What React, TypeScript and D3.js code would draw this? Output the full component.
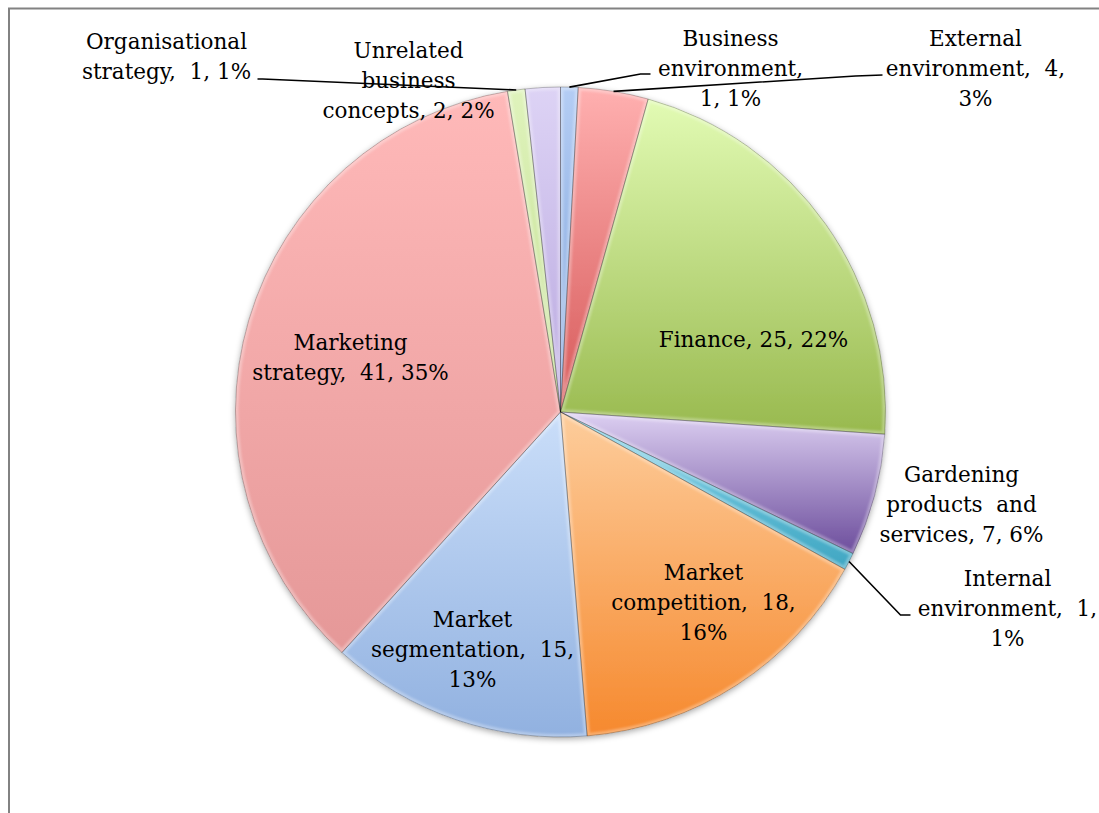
import React from 'react';
import * as d3 from 'd3';

// chart data, clockwise from 12 o'clock
const categories = [
  'Business environment', 'External environment', 'Finance',
  'Gardening products and services', 'Internal environment', 'Market competition',
  'Market segmentation', 'Marketing strategy', 'Organisational strategy',
  'Unrelated business concepts',
];
const values = [1, 4, 25, 7, 1, 18, 15, 41, 1, 2];
const percents = ['1%', '3%', '22%', '6%', '1%', '16%', '13%', '35%', '1%', '2%'];

// label text as wrapped in the original
const labelLines = [
  ['Business', 'environment,', '1, 1%'],
  ['External', 'environment,  4,', '3%'],
  ['Finance, 25, 22%'],
  ['Gardening', 'products  and', 'services, 7, 6%'],
  ['Internal', 'environment,  1,', '1%'],
  ['Market', 'competition,  18,', '16%'],
  ['Market', 'segmentation,  15,', '13%'],
  ['Marketing', 'strategy,  41, 35%'],
  ['Organisational', 'strategy,  1, 1%'],
  ['Unrelated', 'business', 'concepts, 2, 2%'],
];

const topColors = ['#b4cdf4', '#ffb0b0', '#e2fbb4', '#ddd0f2', '#86d4ea', '#fdcd9c', '#cadef9', '#ffb9b9', '#dff3bc', '#ddd3f5'];
const bottomColors = ['#7ea2da', '#d65858', '#98b94e', '#6c4d9c', '#3fa6c2', '#f6892e', '#91b1e0', '#e59898', '#c2de90', '#b9a8df'];

const W = 1099;
const H = 813;
const cx = 560.5;
const cy = 412;
const R = 325;
const fontSize = 21.5;
const lineH = 30;

// label anchors (centre x, first baseline y, relative to pie centre) and leader ends
const labelLayout: { dx: number; dy: number; leader?: [number, number][] }[] = [
  { dx: 170, dy: -366, leader: [[80, -338], [90, -338]] },
  { dx: 415, dy: -366, leader: [[295, -336], [322, -337]] },
  { dx: 193, dy: -65 },
  { dx: 401, dy: 70 },
  { dx: 447, dy: 174, leader: [[340, 203], [350, 203]] },
  { dx: 143, dy: 168 },
  { dx: -88, dy: 215 },
  { dx: -210, dy: -62 },
  { dx: -394, dy: -363, leader: [[-298, -333], [-303, -333]] },
  { dx: -152, dy: -354 },
];

export default function App() {
  const pie = d3.pie<number>().sort(null).value(d => d);
  const arcs = pie(values);
  const arc = d3.arc<d3.PieArcDatum<number>>().innerRadius(0).outerRadius(R);
  const rim = d3.arc<d3.PieArcDatum<number>>().innerRadius(R).outerRadius(R);
  const line = d3.line();

  return (
    <svg width={W} height={H} style={{ position: 'absolute', left: 0, top: 0 }}
      fontFamily="'DejaVu Serif', serif" fontSize={fontSize}>
      <defs>
        {arcs.map((a, i) => (
          <linearGradient key={i} id={`g${i}`} x1="0" y1="0" x2="0" y2="1">
            <stop offset="0" stopColor={topColors[i]} />
            <stop offset="1" stopColor={bottomColors[i]} />
          </linearGradient>
        ))}
        {arcs.map((a, i) => (
          <clipPath key={i} id={`c${i}`}><path d={arc(a) || ''} /></clipPath>
        ))}
        <filter id="shadow" x="-10%" y="-10%" width="120%" height="120%">
          <feDropShadow dx="0" dy="2" stdDeviation="3" floodColor="#000" floodOpacity="0.35" />
        </filter>
        <filter id="soft"><feGaussianBlur stdDeviation="1.2" /></filter>
      </defs>

      <rect x={9} y={8.5} width={W + 20} height={H + 20} fill="#fff" stroke="#828282" strokeWidth={2} />

      <g transform={`translate(${cx},${cy})`}>
        <g filter="url(#shadow)">
          {arcs.map((a, i) => (
            <path key={i} d={arc(a) || ''} fill={`url(#g${i})`} />
          ))}
        </g>
        {arcs.map((a, i) => (
          <g key={i}>
            <path d={arc(a) || ''} fill="none" stroke="#fff" strokeOpacity={0.3}
              strokeWidth={6} clipPath={`url(#c${i})`} filter="url(#soft)" />
            <path d={arc(a) || ''} fill="none" stroke="#000" strokeOpacity={0.3} strokeWidth={0.8} />
          </g>
        ))}

        {arcs.map((a, i) => {
          const lay = labelLayout[i];
          if (!lay.leader) return null;
          const start = rim.centroid(a);
          return (
            <path key={i} d={line([start as [number, number], ...lay.leader]) || ''}
              fill="none" stroke="#000" strokeWidth={1.6} />
          );
        })}

        {arcs.map((a, i) => {
          const lay = labelLayout[i];
          return (
            <text key={i} textAnchor="middle" fill="#000" style={{ whiteSpace: 'pre' }}
              aria-label={`${categories[i]}, ${values[i]}, ${percents[i]}`}>
              {labelLines[i].map((t, j) => (
                <tspan key={j} x={lay.dx} y={lay.dy + j * lineH}>{t}</tspan>
              ))}
            </text>
          );
        })}
      </g>
    </svg>
  );
}
